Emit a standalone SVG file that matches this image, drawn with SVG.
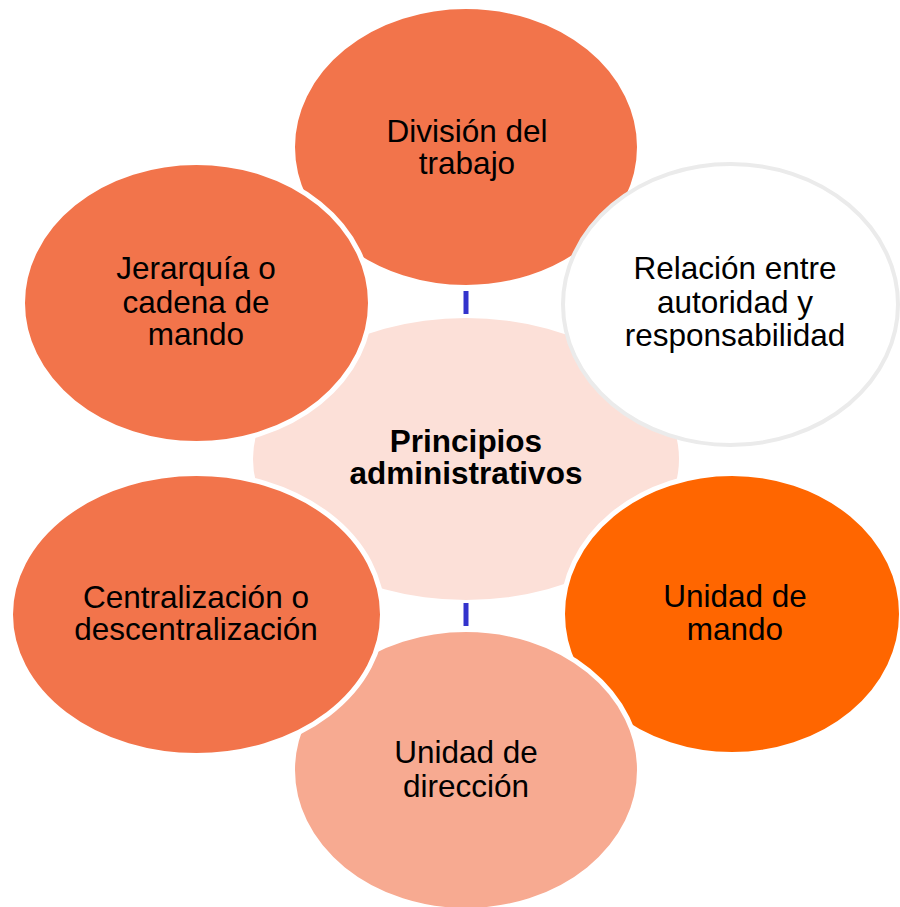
<svg xmlns="http://www.w3.org/2000/svg" width="900" height="907" viewBox="0 0 900 907">
<style>
  .node { stroke: #FFFFFF; stroke-width: 5; }
  .lbl { font-family: "Liberation Sans", Arial, sans-serif; font-size: 31.5px; fill: #000000; text-anchor: middle; }
  .ctr { font-weight: bold; }
  .conn { stroke: #3333CC; stroke-width: 5; fill: none; }
</style>
<rect width="900" height="907" fill="#FFFFFF"/>
<g id="center">
  <ellipse cx="466" cy="459" rx="213" ry="141" fill="#FCE0D8"/>
  <text class="lbl ctr" x="466" y="452">Principios</text>
  <text class="lbl ctr" x="466" y="484">administrativos</text>
</g>
<g id="connectors">
  <line class="conn" x1="466" y1="291" x2="466" y2="314"/>
  <line class="conn" x1="466" y1="603" x2="466" y2="626"/>
</g>
<g id="division">
  <ellipse class="node" cx="466" cy="147" rx="173.5" ry="140.5" fill="#F2744B"/>
  <text class="lbl" x="467" y="142">División del</text>
  <text class="lbl" x="467" y="174">trabajo</text>
</g>
<g id="relacion">
  <ellipse cx="730.5" cy="304.5" rx="167.5" ry="140.5" fill="#FFFFFF" stroke="#EBEBEB" stroke-width="4"/>
  <text class="lbl" x="735" y="279">Relación entre</text>
  <text class="lbl" x="735" y="313">autoridad y</text>
  <text class="lbl" x="735" y="346">responsabilidad</text>
</g>
<g id="mando">
  <ellipse class="node" cx="732" cy="614" rx="169.5" ry="140.5" fill="#FF6600"/>
  <text class="lbl" x="735" y="607">Unidad de</text>
  <text class="lbl" x="735" y="640">mando</text>
</g>
<g id="direccion">
  <ellipse class="node" cx="466" cy="770" rx="173.5" ry="140.5" fill="#F7AA91"/>
  <text class="lbl" x="466" y="763">Unidad de</text>
  <text class="lbl" x="466" y="797">dirección</text>
</g>
<g id="centralizacion">
  <ellipse class="node" cx="196.5" cy="614.5" rx="186" ry="141" fill="#F2744B"/>
  <text class="lbl" x="196" y="608">Centralización o</text>
  <text class="lbl" x="196" y="640">descentralización</text>
</g>
<g id="jerarquia">
  <ellipse class="node" cx="196.5" cy="303" rx="174" ry="140.5" fill="#F2744B"/>
  <text class="lbl" x="196" y="279">Jerarquía o</text>
  <text class="lbl" x="196" y="313">cadena de</text>
  <text class="lbl" x="196" y="345">mando</text>
</g>
</svg>
